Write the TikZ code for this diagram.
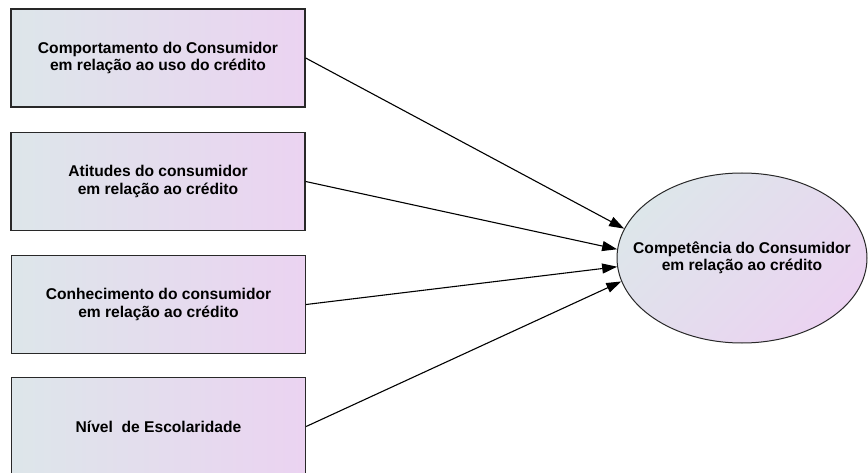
\documentclass[tikz,border=0pt]{standalone}
\usepackage{fontspec}
\setmainfont{Liberation Sans}
\usepackage{tikz}
\usetikzlibrary{arrows.meta,shapes.geometric}

\definecolor{shadeleft}{RGB}{221,230,234}
\definecolor{shaderight}{RGB}{235,211,241}
\definecolor{edgegray}{RGB}{40,40,40}

\begin{document}
\begin{tikzpicture}[
        x=1pt, y=-1pt,
        factor/.style={
            rectangle,
            draw=edgegray,
            line width=1.3pt,
            left color=shadeleft,
            right color=shaderight,
            minimum width=294pt,
            minimum height=98pt,
            align=center,
            font=\fontsize{15.6}{17.5}\selectfont\bfseries
        },
        construct/.style={
            ellipse,
            draw=edgegray,
            line width=1pt,
            shading=axis,
            top color=shadeleft,
            bottom color=shaderight,
            shading angle=45,
            minimum width=250pt,
            minimum height=170pt,
            inner xsep=-40pt,
            inner ysep=0pt,
            align=center,
            font=\fontsize{15.6}{17.5}\selectfont\bfseries
        },
        arrow/.style={-{Triangle[length=15pt,width=10pt]}, draw, line width=1.1pt}
    ]
        \useasboundingbox (0,0) rectangle (868,473);

        % Factor Nodes
        \node[factor] (behaviour) at (158,58) {Comportamento do Consumidor\\em relação ao uso do crédito};
        \node[factor] (attitude) at (158,181.5) {Atitudes do consumidor\\em relação ao crédito};
        \node[factor] (knowledge) at (158.5,304.5) {Conhecimento do consumidor\\em relação ao crédito};
        \node[factor] (schooling) at (158.5,426.5) {Nível\ \ de Escolaridade};

        % Construct Node
        \node[construct] (competence) at (742,258) {Competência do Consumidor\\em relação ao crédito};

        % Paths
        \draw[arrow] (behaviour.east) -- (competence.166);
        \draw[arrow] (attitude.east) -- (competence.176);
        \draw[arrow] (knowledge.east) -- (competence.184);
        \draw[arrow] (schooling.east) -- (competence.191);

    \end{tikzpicture}
\end{document}
